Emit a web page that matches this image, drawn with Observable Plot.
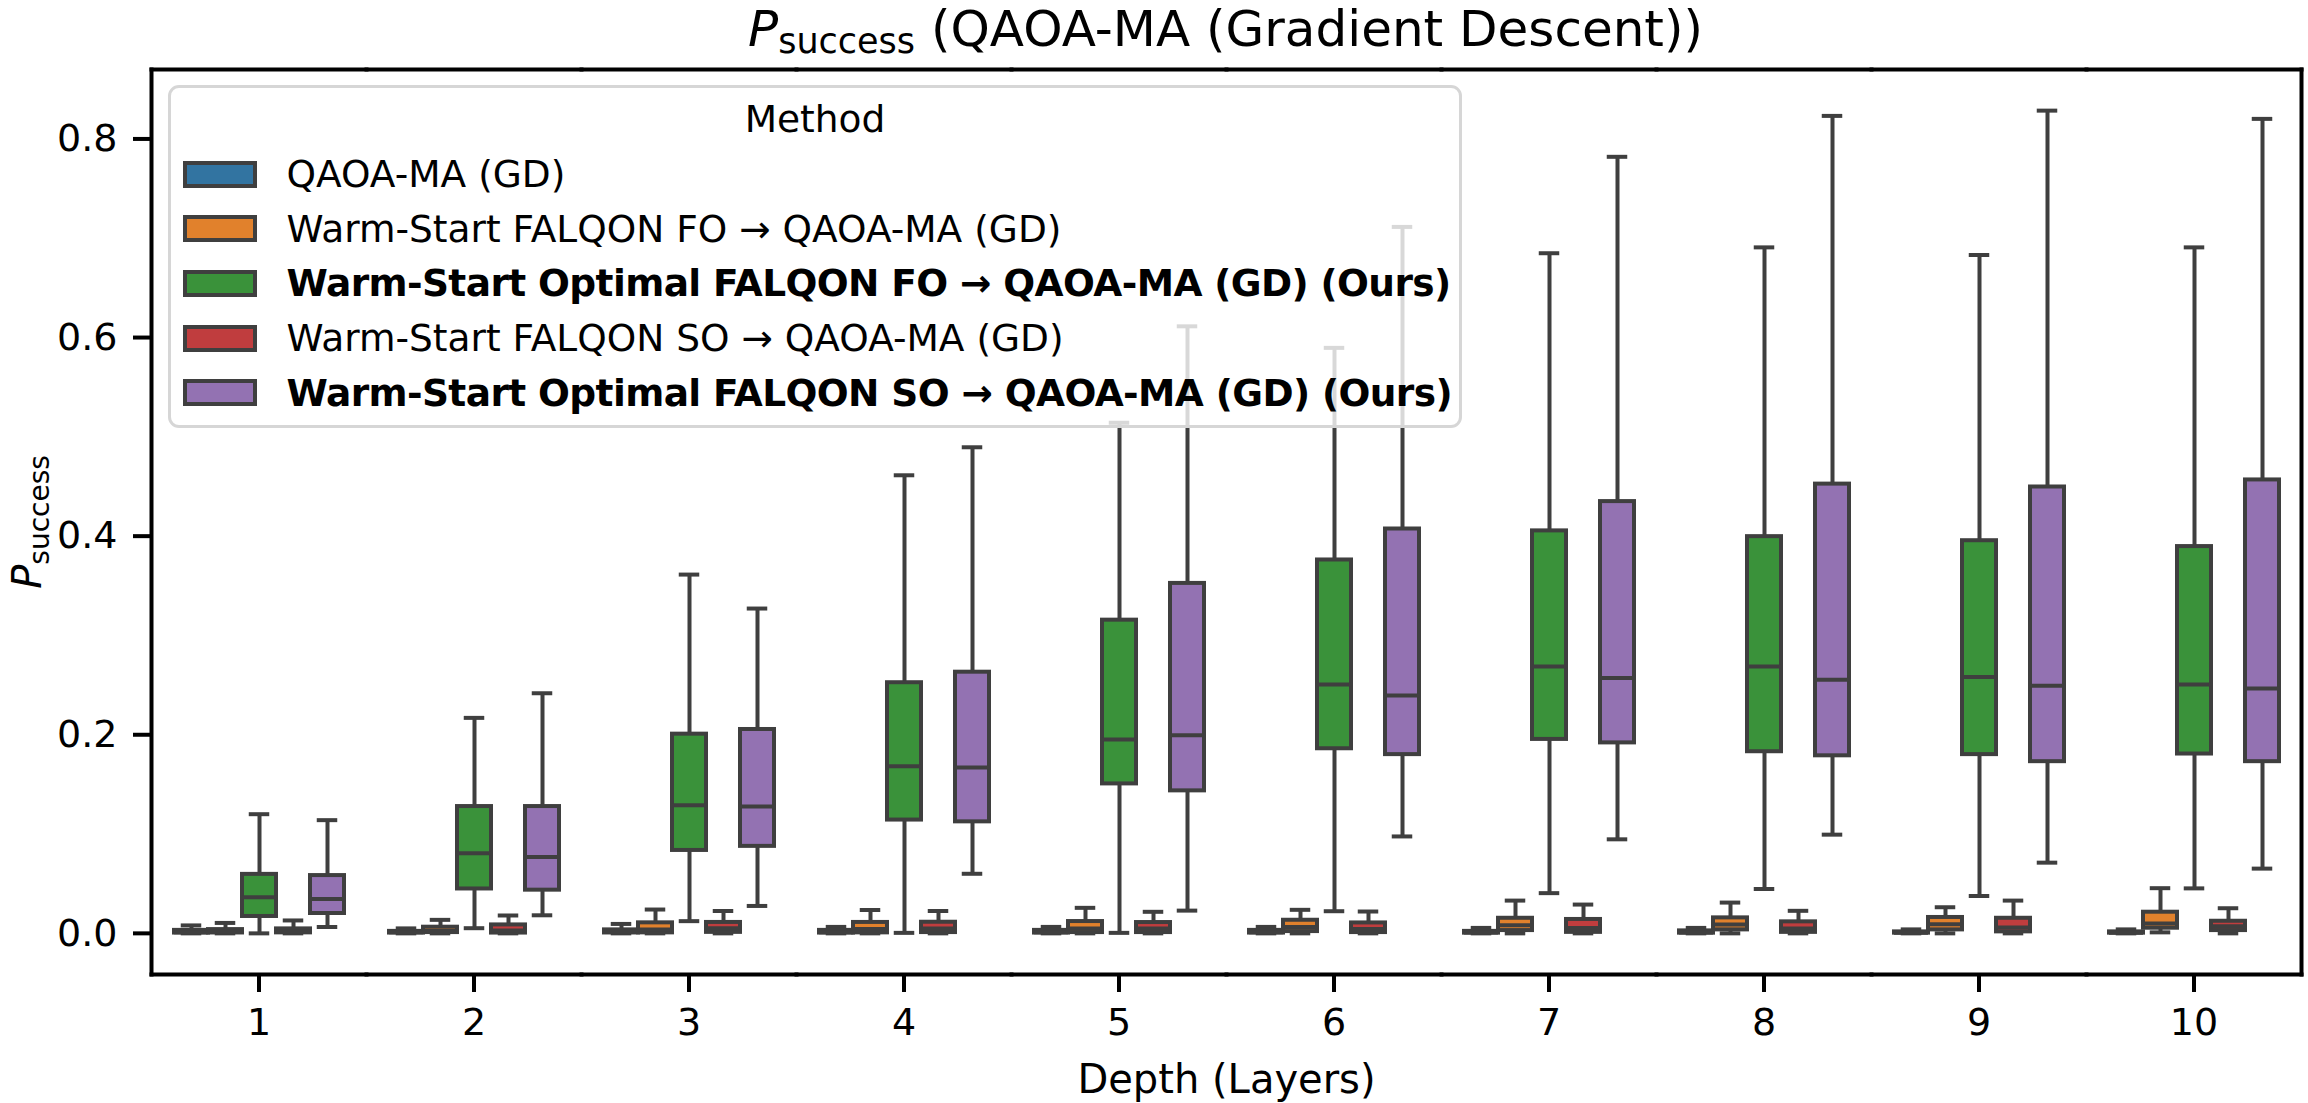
<!DOCTYPE html>
<html>
<head>
<meta charset="utf-8">
<script src="https://cdn.jsdelivr.net/npm/d3@7"></script>
<script src="https://cdn.jsdelivr.net/npm/@observablehq/plot@0.6"></script>
<style>
  body { margin: 0; background: #fff; }
  #fig { position: relative; width: 2308px; height: 1103px; font-family: "DejaVu Sans"; color: #000; overflow: hidden; }
  #title { height: 60px; box-sizing: border-box; padding: 0 4px 0 147px; text-align: center; font-size: 50px; line-height: 59px; white-space: nowrap; overflow: visible; }
  #title .sub { font-size: 0.7em; position: relative; top: 0.2em; }
  #chart svg { display: block; }
  #legend { position: absolute; left: 168px; top: 85px; width: 1294px; height: 343px; box-sizing: border-box;
            border: 3px solid #d6d6d6; border-radius: 11px; background: rgba(255,255,255,0.8);
            font-size: 37.5px; padding-top: 12px; }
  #legend .head { text-align: center; line-height: 38px; height: 38px; margin-bottom: 8.7px; }
  #legend .row { display: flex; align-items: center; height: 54.7px; white-space: nowrap; }
  #legend .swatch { box-sizing: border-box; width: 74px; height: 27px; border: 4px solid #3f3f3f; margin-left: 11.5px; flex: none; }
  #legend .name { margin-left: 30px; line-height: 38px; }
  #legend .ours { font-weight: bold; letter-spacing: -0.6px; }
</style>
</head>
<body>
<div id="fig">
  <div id="title"><i>P</i><span class="sub">success</span> (QAOA-MA (Gradient Descent))</div>
  <div id="chart"></div>
  <div id="legend"></div>
</div>
<script>
// Circuit depths (one group of boxes per depth)
const depths = [1, 2, 3, 4, 5, 6, 7, 8, 9, 10];

// Methods, in hue order, and their box fill colours
const methods = [
  "QAOA-MA (GD)",
  "Warm-Start FALQON FO → QAOA-MA (GD)",
  "Warm-Start Optimal FALQON FO → QAOA-MA (GD) (Ours)",
  "Warm-Start FALQON SO → QAOA-MA (GD)",
  "Warm-Start Optimal FALQON SO → QAOA-MA (GD) (Ours)"
];
const colors = ["#3274a1", "#e1812c", "#3a923a", "#c03d3e", "#9372b2"];

// Five-number summaries of P_success per depth: [lower whisker, Q1, median, Q3, upper whisker]
const qaoaMA = [
  [0, 0.0003, 0.0012, 0.003, 0.008],
  [0, 0.0003, 0.001, 0.002, 0.005],
  [0, 0.0004, 0.0015, 0.0035, 0.0095],
  [0, 0.0003, 0.0012, 0.003, 0.0065],
  [0, 0.0003, 0.0012, 0.003, 0.0065],
  [0, 0.0003, 0.0012, 0.003, 0.0065],
  [0, 0.0002, 0.0008, 0.002, 0.0055],
  [0, 0.0002, 0.0009, 0.0025, 0.0055],
  [0, 0.0002, 0.0007, 0.0015, 0.004],
  [0, 0.0002, 0.0007, 0.0015, 0.004]
];
const falqonFO = [
  [0, 0.0004, 0.0015, 0.0038, 0.0105],
  [0, 0.0008, 0.0025, 0.0062, 0.0136],
  [0, 0.0005, 0.004, 0.0106, 0.024],
  [0, 0.0005, 0.0045, 0.011, 0.0235],
  [0, 0.0008, 0.005, 0.0119, 0.0257],
  [0, 0.0018, 0.0065, 0.0132, 0.0237],
  [0, 0.0028, 0.0082, 0.0152, 0.033],
  [0, 0.0035, 0.009, 0.0156, 0.031],
  [0, 0.0035, 0.0092, 0.016, 0.0263],
  [0.001, 0.0052, 0.0099, 0.0213, 0.0455]
];
const optimalFO = [
  [0, 0.017, 0.0364, 0.0594, 0.120],
  [0.0052, 0.0447, 0.0806, 0.1277, 0.217],
  [0.0123, 0.0835, 0.1289, 0.2006, 0.3613],
  [0.0005, 0.1141, 0.1682, 0.2524, 0.4613],
  [0.0005, 0.1505, 0.1953, 0.3154, 0.5142],
  [0.0223, 0.1859, 0.2506, 0.376, 0.5896],
  [0.0405, 0.1953, 0.2688, 0.4053, 0.6849],
  [0.0447, 0.1829, 0.2688, 0.3995, 0.6908],
  [0.0376, 0.18, 0.2582, 0.3954, 0.6831],
  [0.0453, 0.1806, 0.2506, 0.3895, 0.6908]
];
const falqonSO = [
  [0, 0.0005, 0.0018, 0.0045, 0.013],
  [0, 0.0003, 0.003, 0.0085, 0.018],
  [0, 0.001, 0.0052, 0.011, 0.0225],
  [0, 0.0008, 0.005, 0.0112, 0.0225],
  [0, 0.0008, 0.005, 0.0109, 0.0217],
  [0, 0.0008, 0.0045, 0.0105, 0.022],
  [0, 0.001, 0.0055, 0.014, 0.029],
  [0, 0.001, 0.005, 0.0116, 0.0227],
  [0, 0.0015, 0.0058, 0.0152, 0.033],
  [0, 0.0028, 0.0072, 0.0122, 0.0253]
];
const optimalSO = [
  [0.0064, 0.020, 0.0347, 0.0582, 0.114],
  [0.0182, 0.0435, 0.077, 0.1277, 0.2418],
  [0.0276, 0.0876, 0.1277, 0.2053, 0.3271],
  [0.060, 0.1123, 0.1671, 0.263, 0.4895],
  [0.0229, 0.1435, 0.1994, 0.3524, 0.6113],
  [0.0976, 0.18, 0.2395, 0.4072, 0.7114],
  [0.0947, 0.1918, 0.2571, 0.4348, 0.782],
  [0.0994, 0.1788, 0.2553, 0.4524, 0.8232],
  [0.0712, 0.1729, 0.2494, 0.4495, 0.8285],
  [0.0652, 0.1729, 0.2465, 0.4566, 0.8202]
];
const summaries = [qaoaMA, falqonFO, optimalFO, falqonSO, optimalSO];

// Y tick values
const yTicks = [0, 0.2, 0.4, 0.6, 0.8];

// Long table: one row per (method, depth) box
const boxes = methods.flatMap((method, i) =>
  summaries[i].map(([lo, q1, med, q3, hi], j) => ({depth: depths[j], method, lo, q1, med, q3, hi}))
);

// 5% margin around the data range, as matplotlib autoscaling does
const [vmin, vmax] = d3.extent(boxes.flatMap(d => [d.lo, d.hi]));
const margin = 0.05 * (vmax - vmin);

const ink = "#3f3f3f";
const lw = 4;
const pos = {fx: "depth", x: "method"};

const chart = Plot.plot({
  width: 2308,
  height: 1043,
  marginLeft: 147,
  marginRight: 4,
  marginTop: 9,
  marginBottom: 129,
  style: {fontFamily: "DejaVu Sans", fontSize: "38px", background: "white", color: "black"},
  fx: {domain: depths, padding: 0, label: "Depth (Layers)"},
  x: {domain: methods, paddingInner: 0, paddingOuter: 0.625, axis: null},
  y: {domain: [vmin - margin, vmax + margin]},
  color: {domain: methods, range: colors},
  marks: [
    // whiskers and caps
    Plot.ruleX(boxes, {...pos, y1: "lo", y2: "hi", stroke: ink, strokeWidth: lw}),
    Plot.tickY(boxes, {...pos, y: "lo", stroke: ink, strokeWidth: lw, inset: 6.75}),
    Plot.tickY(boxes, {...pos, y: "hi", stroke: ink, strokeWidth: lw, inset: 6.75}),
    // interquartile boxes and medians
    Plot.rectY(boxes, {...pos, y1: "q1", y2: "q3", fill: "method", stroke: ink, strokeWidth: lw}),
    Plot.tickY(boxes, {...pos, y: "med", stroke: ink, strokeWidth: lw}),
    // axes frame around all facets
    Plot.frame({anchor: "top", stroke: "black", strokeWidth: 4, strokeLinecap: "square"}),
    Plot.frame({anchor: "bottom", stroke: "black", strokeWidth: 4, strokeLinecap: "square"}),
    Plot.frame({anchor: "left", facetAnchor: "left", stroke: "black", strokeWidth: 4, strokeLinecap: "square"}),
    Plot.frame({anchor: "right", facetAnchor: "right", stroke: "black", strokeWidth: 4, strokeLinecap: "square"}),
    Plot.axisY({
      ticks: yTicks, tickFormat: d3.format(".1f"), fontSize: 38,
      tickSize: 18, tickPadding: 16, strokeWidth: 4,
      label: "Psuccess", labelAnchor: "center", labelOffset: 139, labelArrow: "none"
    }),
    Plot.axisFx({
      anchor: "bottom", fontSize: 38, tickSize: 18, tickPadding: 16, strokeWidth: 4,
      label: "Depth (Layers)", labelAnchor: "center", labelOffset: 118
    })
  ]
});

document.getElementById("chart").append(chart);

// axis labels: slightly larger, and P with a "success" subscript on the y label
const svg = d3.select(chart);
svg.selectAll('g[aria-label="y-axis label"] text, g[aria-label="fx-axis label"] text').attr("font-size", 40);
const yl = svg.select('g[aria-label="y-axis label"] text');
yl.text(null);
yl.append("tspan").attr("font-style", "italic").text("P");
yl.append("tspan").attr("font-size", "0.7em").attr("dy", "0.3em").text("success");

// legend
const legend = d3.select("#legend");
legend.append("div").attr("class", "head").text("Method");
methods.forEach((m, i) => {
  const row = legend.append("div").attr("class", "row");
  row.append("div").attr("class", "swatch").style("background", colors[i]);
  row.append("div").attr("class", m.endsWith("(Ours)") ? "name ours" : "name").text(m);
});
</script>
</body>
</html>
